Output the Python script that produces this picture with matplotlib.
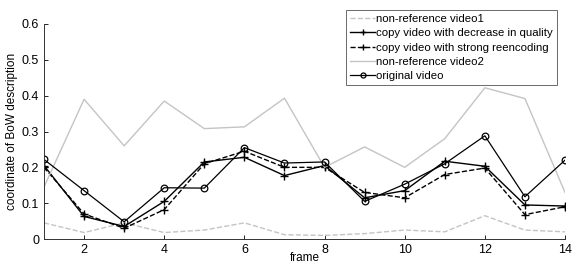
import matplotlib
matplotlib.use("Agg")
import matplotlib.pyplot as plt

frames = list(range(1, 15))
nonref1 = [0.045, 0.018, 0.045, 0.018, 0.025, 0.045, 0.012, 0.010, 0.015, 0.025, 0.020, 0.065, 0.025, 0.020]
decrease = [0.205, 0.063, 0.035, 0.105, 0.215, 0.228, 0.177, 0.205, 0.115, 0.135, 0.217, 0.203, 0.095, 0.092]
reencode = [0.200, 0.070, 0.030, 0.082, 0.210, 0.245, 0.200, 0.200, 0.130, 0.115, 0.180, 0.198, 0.068, 0.090]
nonref2 = [0.145, 0.390, 0.260, 0.385, 0.308, 0.313, 0.393, 0.200, 0.257, 0.200, 0.280, 0.422, 0.392, 0.130]
original = [0.222, 0.135, 0.048, 0.143, 0.142, 0.255, 0.212, 0.215, 0.105, 0.153, 0.210, 0.288, 0.118, 0.220]

labels = ["non-reference video1", "copy video with decrease in quality",
          "copy video with strong reencoding", "non-reference video2", "original video"]
xticks = [2, 4, 6, 8, 10, 12, 14]
yticks = [0, 0.1, 0.2, 0.3, 0.4, 0.5, 0.6]

plt.rcParams['font.family'] = ['Liberation Sans', 'DejaVu Sans']
fig = plt.figure(figsize=(5.72, 2.63), dpi=100)
ax = fig.add_axes([44/572, 1-239/263, (565-44)/572, (239-24)/263])

gray = '#c4c4c4'
l1, = ax.plot(frames, nonref1, color=gray, ls='--', lw=1.0, label=labels[0])
l2, = ax.plot(frames, decrease, color='black', ls='-', lw=1.0, marker='+', ms=5.5, mew=1.0, label=labels[1])
l3, = ax.plot(frames, reencode, color='black', ls='--', lw=1.0, marker='+', ms=5.5, mew=1.0, label=labels[2])
l4, = ax.plot(frames, nonref2, color=gray, ls='-', lw=1.0, label=labels[3])
l5, = ax.plot(frames, original, color='black', ls='-', lw=0.9, marker='o', ms=4.8, mfc='none', mew=0.9, label=labels[4])

ax.set_xlim(1, 14)
ax.set_ylim(0, 0.6)
ax.set_xticks(xticks)
ax.set_yticks(yticks)
ax.set_yticklabels(['0', '0.1', '0.2', '0.3', '0.4', '0.5', '0.6'])
ax.tick_params(direction='in', length=3, labelsize=9, width=0.6)
ax.spines['top'].set_visible(False)
ax.spines['right'].set_visible(False)
for s in ('left', 'bottom'):
    ax.spines[s].set_linewidth(0.7)
    ax.spines[s].set_color('#333333')

ax.set_xlabel('frame', fontsize=8.5, labelpad=-2.5)
ax.set_ylabel('coordinate of BoW description', fontsize=8.5, labelpad=3)

leg = fig.legend(handles=[l1, l2, l3, l4, l5], loc='upper left',
                 bbox_to_anchor=(346/572, 1-10/263), numpoints=1,
                 fontsize=8.2, frameon=True, fancybox=False, borderpad=0.35,
                 labelspacing=0.38, handlelength=2.2, handletextpad=0.1,
                 borderaxespad=0, markerscale=0.75)
leg.get_frame().set_edgecolor('#444444')
leg.get_frame().set_linewidth(0.7)

fig.savefig('out.png', dpi=100)
